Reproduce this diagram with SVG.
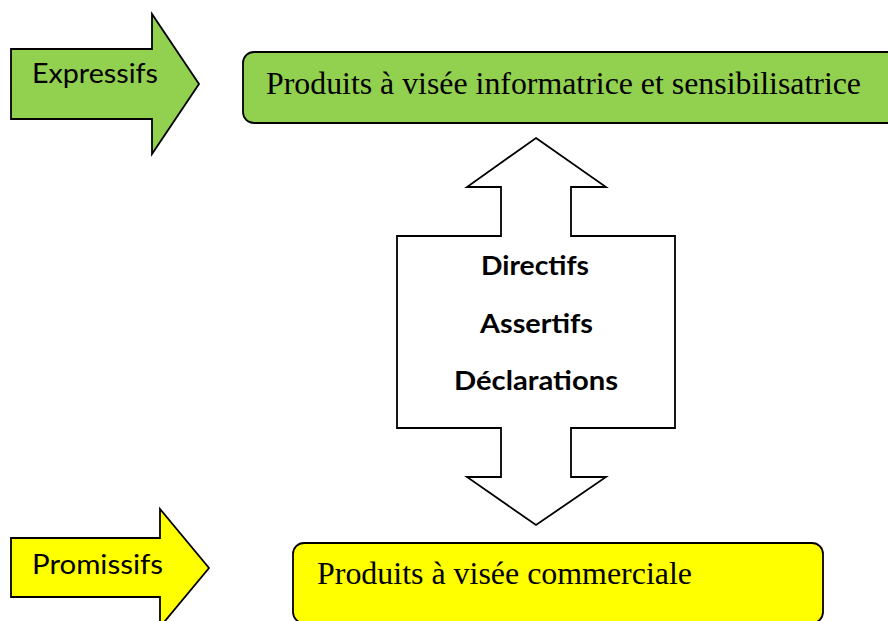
<svg xmlns="http://www.w3.org/2000/svg" width="888" height="621" viewBox="0 0 888 621">
<style>
.shape{stroke:#000;stroke-width:1.8;stroke-linejoin:miter}
.green{fill:#92D050}
.yellow{fill:#FFFF00}
.white{fill:#fff}
.serif{font-family:"Liberation Serif","Times New Roman",serif;font-size:31.5px;fill:#000}
.sans{font-family:Lato,"Open Sans",sans-serif;font-size:27px;fill:#000}
.bold{font-family:Lato,"Open Sans",sans-serif;font-size:26.5px;font-weight:bold;fill:#000}
</style>
<rect width="888" height="621" fill="#fff"/>
<g id="expressifs">
<polygon class="shape green" points="11,49 152,49 152,14 199,84 152,154 152,119 11,119"/>
<text class="sans" x="32" y="83" textLength="126" lengthAdjust="spacingAndGlyphs">Expressifs</text>
</g>
<g id="produits-info">
<rect class="shape green" x="243" y="52" width="660" height="71" rx="11"/>
<text class="serif" x="266" y="94" textLength="595" lengthAdjust="spacingAndGlyphs">Produits à visée informatrice et sensibilisatrice</text>
</g>
<g id="connectors">
<g id="double-arrow">
<polygon class="shape white" points="536,138 606,187 571,187 571,236 675,236 675,428 571,428 571,477 606,477 536,525 467,477 501,477 501,428 397,428 397,236 501,236 501,187 467,187"/>
<text class="bold" x="481" y="275" textLength="108" lengthAdjust="spacingAndGlyphs">Directifs</text>
<text class="bold" x="480" y="333" textLength="113" lengthAdjust="spacingAndGlyphs">Assertifs</text>
<text class="bold" x="454" y="390" textLength="164" lengthAdjust="spacingAndGlyphs">Déclarations</text>
</g>
</g>
<g id="promissifs">
<polygon class="shape yellow" points="11,538 160,538 160,509 209,568 160,627 160,597 11,597"/>
<text class="sans" x="32" y="574" textLength="131" lengthAdjust="spacingAndGlyphs">Promissifs</text>
</g>
<g id="produits-commerciale">
<rect class="shape yellow" x="293" y="543" width="530" height="80" rx="11"/>
<text class="serif" x="317" y="584" textLength="375" lengthAdjust="spacingAndGlyphs">Produits à visée commerciale</text>
</g>
</svg>
